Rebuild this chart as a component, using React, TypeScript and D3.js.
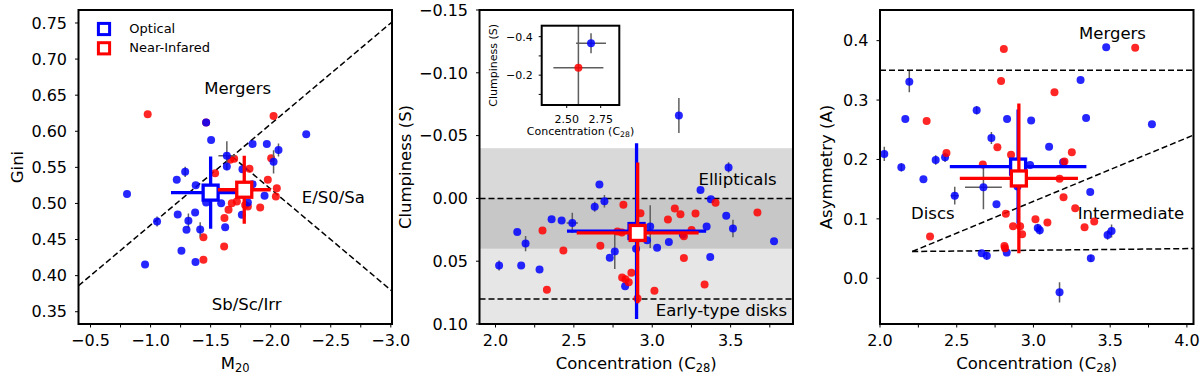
import React from "react";
import * as d3 from "d3";

const FONT = "'DejaVu Sans', Verdana, sans-serif";
const BLUE = "#0000ff";
const RED = "#ff0000";
const ERR = "#5e5e5e";

// ---------- Panel 1 : Gini vs M20   [M20, Gini, xerr, yerr]
const giniOptical: number[][] = [
  [-0.804, 0.513], [-0.954, 0.4155], [-1.054, 0.475, 0, 0.007], [-1.218, 0.533],
  [-1.226, 0.4847], [-1.288, 0.5438, 0, 0.007], [-1.257, 0.4344], [-1.299, 0.4635],
  [-1.315, 0.476, 0, 0.01], [-1.371, 0.4875], [-1.376, 0.5253], [-1.374, 0.4188],
  [-1.413, 0.464, 0, 0.01], [-1.4625, 0.612], [-1.504, 0.588], [-1.4625, 0.5013],
  [-1.5875, 0.5004], [-1.621, 0.4672], [-1.635, 0.566, 0.07, 0.02], [-1.635, 0.5512],
  [-1.765, 0.5475], [-1.76, 0.4843], [-1.81, 0.5013], [-1.849, 0.5825],
  [-1.849, 0.5267], [-1.968, 0.5825], [-1.949, 0.5106], [-2.024, 0.5576, 0, 0.016],
  [-2.065, 0.5742, 0, 0.009], [-2.296, 0.596],
];
const giniNIR: number[][] = [
  [-0.976, 0.6236], [-1.44, 0.422], [-1.44, 0.4533], [-1.5375, 0.542],
  [-1.615, 0.4797], [-1.6125, 0.4404], [-1.649, 0.4912], [-1.6625, 0.5604],
  [-1.696, 0.5618], [-1.676, 0.5004], [-1.718, 0.5027], [-1.7875, 0.498],
  [-1.8236, 0.548], [-1.81, 0.4958], [-1.9125, 0.4944], [-1.976, 0.5327],
  [-2.004, 0.5627], [-2.024, 0.6213], [-2.051, 0.5212], [-2.043, 0.5096],
  [-1.4625, 0.612],
];
const giniMeanOptical = [-1.5, 0.515, 0.33, 0.05];
const giniMeanNIR = [-1.78, 0.519, 0.22, 0.047];
const p1XTicks = [-0.5, -0.75, -1.0, -1.25, -1.5, -1.75, -2.0, -2.25, -2.5, -2.75, -3.0];
const p1XLabels = ["−0.5", "", "−1.0", "", "−1.5", "", "−2.0", "", "−2.5", "", "−3.0"];
const p1YTicks = [0.35, 0.4, 0.45, 0.5, 0.55, 0.6, 0.65, 0.7, 0.75];
const p1YLabels = ["0.35", "0.40", "0.45", "0.50", "0.55", "0.60", "0.65", "0.70", "0.75"];

// ---------- Panel 2 : Clumpiness vs Concentration   [C28, S, xerr, yerr]
const clumpOptical: number[][] = [
  [2.023, 0.0534, 0, 0.004], [2.139, 0.0267], [2.164, 0.0534], [2.192, 0.036, 0, 0.006],
  [2.281, 0.0566], [2.358, 0.0166], [2.422, 0.0176], [2.49, 0.0195, 0.036, 0.008],
  [2.633, 0.0067, 0, 0.004], [2.663, -0.0111], [2.695, 0.0022, 0, 0.005], [2.729, 0.0472],
  [2.761, 0.0422, 0, 0.014], [2.827, 0.0699], [2.897, 0.04], [2.967, 0.0334],
  [2.987, 0.0224, 0, 0.017], [3.031, 0.0392], [3.106, 0.0347], [3.17, -0.066, 0, 0.014],
  [3.195, 0.0288], [3.308, -0.0066], [3.347, 0.0224], [3.37, 0.0467],
  [3.374, 0.0006], [3.472, 0.0139], [3.487, -0.0247, 0, 0.004], [3.515, 0.024, 0, 0.007],
  [3.777, 0.0342],
];
const clumpNIR: number[][] = [
  [2.3, 0.0256], [2.328, 0.0728], [2.433, 0.0414], [2.669, 0.0376],
  [2.778, 0.0264], [2.806, 0.0272], [2.816, 0.0051], [2.808, 0.063],
  [2.829, 0.0643], [2.85, 0.0667], [2.867, 0.0592], [2.906, 0.0797],
  [2.925, 0.0118], [3.014, 0.0736], [3.1, 0.0168], [3.144, 0.008],
  [3.18, 0.0126], [3.202, 0.0302], [3.202, 0.0475], [3.251, 0.0251],
  [3.276, 0.012], [3.334, 0.0686], [3.404, 0.0035], [3.671, 0.0112],
];
const clumpMeanOptical = [2.9, 0.026, 0.444, 0.07];
const clumpMeanNIR = [2.907, 0.0275, 0.389, 0.056];
const clumpBands = [[-0.04, 0.04, 0.3], [0.0, 0.1, 0.2]];
const clumpLines = [0.0, 0.08];
const p2XTicks = [2.0, 2.25, 2.5, 2.75, 3.0, 3.25, 3.5, 3.75];
const p2XLabels = ["2.0", "", "2.5", "", "3.0", "", "3.5", ""];
const p2YTicks = [-0.15, -0.1, -0.05, 0.0, 0.05, 0.1];
const p2YLabels = ["−0.15", "−0.10", "−0.05", "0.00", "0.05", "0.10"];

// inset
const insetOptical: number[][] = [[2.679, -0.366, 0.11, 0.052]];
const insetNIR: number[][] = [[2.586, -0.238, 0.184, 0.3]];
const insetXTicks = [2.5, 2.75];
const insetXLabels = ["2.50", "2.75"];
const insetYTicks = [-0.4, -0.3, -0.2, -0.1];
const insetYLabels = ["−0.4", "", "−0.2", ""];

// ---------- Panel 3 : Asymmetry vs Concentration   [C28, A, xerr, yerr]
const asymOptical: number[][] = [
  [2.028, 0.2093, 0, 0.012], [2.139, 0.1868, 0, 0.007], [2.165, 0.2682], [2.191, 0.331, 0, 0.018],
  [2.283, 0.1666], [2.363, 0.1992, 0, 0.008], [2.424, 0.2036, 0, 0.008], [2.487, 0.1391, 0.026, 0.015],
  [2.63, 0.2828, 0, 0.007], [2.674, 0.1532, 0.12, 0.037], [2.663, 0.0421], [2.696, 0.0381, 0, 0.007],
  [2.726, 0.2362, 0, 0.01], [2.759, 0.1245], [2.826, 0.0432], [2.828, 0.2682],
  [2.896, 0.1543], [2.985, 0.2654], [2.978, 0.1907], [3.028, 0.0847, 0, 0.007],
  [3.041, 0.0808, 0, 0.007], [3.102, 0.2216], [3.193, 0.1952], [3.17, -0.0236, 0, 0.017],
  [3.307, 0.3338], [3.343, 0.2698], [3.37, 0.1453], [3.374, 0.0337, 0, 0.006],
  [3.474, 0.3888], [3.483, 0.0729, 0, 0.008], [3.509, 0.0797, 0, 0.011], [3.772, 0.2592],
];
const asymNIR: number[][] = [
  [2.807, 0.386], [2.789, 0.3321], [2.304, 0.2648], [2.433, 0.2109],
  [2.765, 0.2205], [2.854, 0.2081], [2.67, 0.1913], [2.326, 0.0701],
  [2.82, 0.1088], [2.867, 0.0875], [2.913, 0.0875], [2.926, 0.0741],
  [2.811, 0.0544], [2.815, 0.0505], [3.013, 0.0993], [3.091, 0.0937],
  [3.137, 0.313], [3.17, 0.1677], [3.196, 0.1363], [3.202, 0.1964],
  [3.25, 0.2121], [3.272, 0.1178], [3.333, 0.0858], [3.396, 0.0954],
  [3.663, 0.3882],
];
const asymMeanOptical = [2.9, 0.188, 0.445, 0.096];
const asymMeanNIR = [2.905, 0.168, 0.385, 0.126];
const asymLines = [
  [[2.0, 0.35], [4.043, 0.35]],
  [[2.21, 0.045], [4.043, 0.05]],
  [[2.21, 0.045], [4.043, 0.241]],
];
const p3XTicks = [2.0, 2.25, 2.5, 2.75, 3.0, 3.25, 3.5, 3.75, 4.0];
const p3XLabels = ["2.0", "", "2.5", "", "3.0", "", "3.5", "", "4.0"];
const p3YTicks = [0.0, 0.1, 0.2, 0.3, 0.4];
const p3YLabels = ["0.0", "0.1", "0.2", "0.3", "0.4"];

// ---------- layout
const TOP = 10;
const BOT = 324;
const PW = 313.5;
const LEFTS = [78.5, 479.5, 880];

type Scale = d3.ScaleLinear<number, number>;

function Points({ data, sx, sy, color, r = 4 }: { data: number[][]; sx: Scale; sy: Scale; color: string; r?: number }) {
  return (
    <g>
      {data.map((d, i) => {
        const [xv, yv, xe = 0, ye = 0] = d;
        return (
          <g key={i}>
            {xe > 0 && <line x1={sx(xv - xe)} x2={sx(xv + xe)} y1={sy(yv)} y2={sy(yv)} stroke={ERR} strokeWidth={1.5} />}
            {ye > 0 && <line x1={sx(xv)} x2={sx(xv)} y1={sy(yv - ye)} y2={sy(yv + ye)} stroke={ERR} strokeWidth={1.5} />}
          </g>
        );
      })}
      {data.map((d, i) => (
        <circle key={"c" + i} cx={sx(d[0])} cy={sy(d[1])} r={r} fill={color} fillOpacity={0.85} />
      ))}
    </g>
  );
}

function Mean({ m, sx, sy, color }: { m: number[]; sx: Scale; sy: Scale; color: string }) {
  const [xv, yv, xe, ye] = m;
  const cx = sx(xv);
  const cy = sy(yv);
  return (
    <g>
      <line x1={sx(xv - xe)} x2={sx(xv + xe)} y1={cy} y2={cy} stroke={color} strokeWidth={3.3} />
      <line x1={cx} x2={cx} y1={sy(yv - ye)} y2={sy(yv + ye)} stroke={color} strokeWidth={3.3} />
      <rect x={cx - 7.5} y={cy - 7.5} width={15} height={15} fill="white" stroke={color} strokeWidth={3.3} />
    </g>
  );
}

function Axes({ sx, sy, xt, xl, yt, yl, fs = 16, tick = 3.5, xGap = 22, yGap = 11.5 }: {
  sx: Scale; sy: Scale; xt: number[]; xl: string[]; yt: number[]; yl: string[]; fs?: number; tick?: number; xGap?: number; yGap?: number;
}) {
  const [x0, x1] = sx.range();
  const ys = sy.range();
  const y0 = Math.min(ys[0], ys[1]);
  const y1 = Math.max(ys[0], ys[1]);
  return (
    <g fontFamily={FONT} fontSize={fs} fill="#000">
      {xt.map((v, i) => (
        <g key={"x" + i}>
          <line x1={sx(v)} x2={sx(v)} y1={y1} y2={y1 + tick} stroke="#000" strokeWidth={1} />
          {xl[i] && <text x={sx(v)} y={y1 + xGap} textAnchor="middle">{xl[i]}</text>}
        </g>
      ))}
      {yt.map((v, i) => (
        <g key={"y" + i}>
          <line x1={x0 - tick} x2={x0} y1={sy(v)} y2={sy(v)} stroke="#000" strokeWidth={1} />
          {yl[i] && <text x={x0 - yGap} y={sy(v)} dy="0.36em" textAnchor="end">{yl[i]}</text>}
        </g>
      ))}
      <rect x={x0} y={y0} width={x1 - x0} height={y1 - y0} fill="none" stroke="#000" strokeWidth={2} />
    </g>
  );
}

export default function App() {
  // scales
  const s1x = d3.scaleLinear().domain([-0.4, -3.01]).range([LEFTS[0], LEFTS[0] + PW]);
  const s1y = d3.scaleLinear().domain([0.333, 0.768]).range([BOT, TOP]);
  const s2x = d3.scaleLinear().domain([1.898, 3.898]).range([LEFTS[1], LEFTS[1] + PW]);
  const s2y = d3.scaleLinear().domain([-0.15, 0.1]).range([TOP, BOT]);
  const s3x = d3.scaleLinear().domain([2.0, 4.043]).range([LEFTS[2], LEFTS[2] + PW]);
  const s3y = d3.scaleLinear().domain([-0.077, 0.4516]).range([BOT, TOP]);
  const six = d3.scaleLinear().domain([2.316, 2.887]).range([541.7, 619.3]);
  const siy = d3.scaleLinear().domain([-0.457, -0.045]).range([25.7, 105]);

  const line = d3.line<number[]>();

  // Lotz et al. lines
  const mergerLine = (m: number) => -0.14 * m + 0.33;
  const hubbleLine = (m: number) => 0.14 * m + 0.8;
  const mX = (0.8 - 0.33) / -0.28;
  const d1 = [[-0.4, mergerLine(-0.4)], [-3.01, mergerLine(-3.01)]];
  const d2 = [[mX, hubbleLine(mX)], [-3.01, hubbleLine(-3.01)]];

  const ann = { fontFamily: FONT, fontSize: 16.5, fill: "#000" } as const;

  return (
    <svg width={1200} height={375} style={{ position: "absolute", left: 0, top: 0, background: "#fff" }}>
      <defs>
        <clipPath id="c1"><rect x={LEFTS[0]} y={TOP} width={PW} height={BOT - TOP} /></clipPath>
        <clipPath id="c2"><rect x={LEFTS[1]} y={TOP} width={PW} height={BOT - TOP} /></clipPath>
        <clipPath id="c3"><rect x={LEFTS[2]} y={TOP} width={PW} height={BOT - TOP} /></clipPath>
        <clipPath id="ci"><rect x={541.7} y={25.7} width={77.6} height={79.3} /></clipPath>
      </defs>
      <rect x={0} y={0} width={1200} height={375} fill="#fff" />

      {/* ---------------- Panel 1 ---------------- */}
      <g clipPath="url(#c1)">
        {[d1, d2].map((d, i) => (
          <path key={i} d={line(d.map((p) => [s1x(p[0]), s1y(p[1])]) as [number, number][]) || ""} fill="none" stroke="#000" strokeWidth={1.5} strokeDasharray="6,3" />
        ))}
        <text {...ann} x={s1x(-1.725)} y={93.5} textAnchor="middle">Mergers</text>
        <text {...ann} x={333.3} y={202.5} textAnchor="middle">E/S0/Sa</text>
        <text {...ann} x={246.7} y={310} textAnchor="middle">Sb/Sc/Irr</text>
        <Points data={giniNIR} sx={s1x} sy={s1y} color={RED} />
        <Points data={giniOptical} sx={s1x} sy={s1y} color={BLUE} />
        <Mean m={giniMeanOptical} sx={s1x} sy={s1y} color={BLUE} />
        <Mean m={giniMeanNIR} sx={s1x} sy={s1y} color={RED} />
        {/* legend */}
        <rect x={104 - 5.6} y={29 - 5.6} width={11.2} height={11.2} fill="white" stroke={BLUE} strokeWidth={3} />
        <rect x={104 - 5.6} y={48.3 - 5.6} width={11.2} height={11.2} fill="white" stroke={RED} strokeWidth={3} />
        <text fontFamily={FONT} fontSize={13} x={129.3} y={32.5}>Optical</text>
        <text fontFamily={FONT} fontSize={13} x={129.3} y={52}>Near-Infared</text>
      </g>
      <Axes sx={s1x} sy={s1y} xt={p1XTicks} xl={p1XLabels} yt={p1YTicks} yl={p1YLabels} />
      <text fontFamily={FONT} fontSize={16.5} x={(LEFTS[0] * 2 + PW) / 2} y={368.5} textAnchor="middle">
        M<tspan fontSize={11.5} dy={3.5}>20</tspan>
      </text>
      <text fontFamily={FONT} fontSize={16.5} transform={`translate(22.5,167) rotate(-90)`} textAnchor="middle">Gini</text>

      {/* ---------------- Panel 2 ---------------- */}
      <g clipPath="url(#c2)">
        {clumpBands.map((b, i) => (
          <rect key={i} x={LEFTS[1]} width={PW} y={s2y(b[0])} height={s2y(b[1]) - s2y(b[0])} fill="#808080" fillOpacity={b[2]} />
        ))}
        {clumpLines.map((v, i) => (
          <line key={i} x1={LEFTS[1]} x2={LEFTS[1] + PW} y1={s2y(v)} y2={s2y(v)} stroke="#000" strokeWidth={1.5} strokeDasharray="6,3" />
        ))}
        <text {...ann} x={698.5} y={184.5}>Ellipticals</text>
        <text {...ann} x={787} y={316} textAnchor="end">Early-type disks</text>
        <Points data={clumpOptical} sx={s2x} sy={s2y} color={BLUE} />
        <Points data={clumpNIR} sx={s2x} sy={s2y} color={RED} />
        <Mean m={clumpMeanOptical} sx={s2x} sy={s2y} color={BLUE} />
        <Mean m={clumpMeanNIR} sx={s2x} sy={s2y} color={RED} />
      </g>
      <Axes sx={s2x} sy={s2y} xt={p2XTicks} xl={p2XLabels} yt={p2YTicks} yl={p2YLabels} />
      <text fontFamily={FONT} fontSize={16.5} x={(LEFTS[1] * 2 + PW) / 2} y={368.5} textAnchor="middle">
        Concentration (C<tspan fontSize={11.5} dy={3.5}>28</tspan><tspan dy={-3.5}>)</tspan>
      </text>
      <text fontFamily={FONT} fontSize={16.5} transform={`translate(410.5,167) rotate(-90)`} textAnchor="middle">Clumpiness (S)</text>

      {/* inset */}
      <rect x={541.7} y={25.7} width={77.6} height={79.3} fill="#fff" />
      <g clipPath="url(#ci)">
        <Points data={insetOptical} sx={six} sy={siy} color={BLUE} />
        <Points data={insetNIR} sx={six} sy={siy} color={RED} />
      </g>
      <Axes sx={six} sy={siy} xt={insetXTicks} xl={insetXLabels} yt={insetYTicks} yl={insetYLabels} fs={11} tick={3} xGap={18} yGap={9} />
      <text fontFamily={FONT} fontSize={11} x={580.5} y={134.5} textAnchor="middle">
        Concentration (C<tspan fontSize={7.7} dy={2.4}>28</tspan><tspan dy={-2.4}>)</tspan>
      </text>
      <text fontFamily={FONT} fontSize={11} transform={`translate(496.7,65.3) rotate(-90)`} textAnchor="middle">Clumpiness (S)</text>

      {/* ---------------- Panel 3 ---------------- */}
      <g clipPath="url(#c3)">
        {asymLines.map((d, i) => (
          <path key={i} d={line(d.map((p) => [s3x(p[0]), s3y(p[1])]) as [number, number][]) || ""} fill="none" stroke="#000" strokeWidth={1.5} strokeDasharray="6,3" />
        ))}
        <text {...ann} x={1112.5} y={38.5} textAnchor="middle">Mergers</text>
        <text {...ann} x={911} y={218.5}>Discs</text>
        <text {...ann} x={1077.7} y={218.5}>Intermediate</text>
        <Points data={asymOptical} sx={s3x} sy={s3y} color={BLUE} />
        <Points data={asymNIR} sx={s3x} sy={s3y} color={RED} />
        <Mean m={asymMeanOptical} sx={s3x} sy={s3y} color={BLUE} />
        <Mean m={asymMeanNIR} sx={s3x} sy={s3y} color={RED} />
      </g>
      <Axes sx={s3x} sy={s3y} xt={p3XTicks} xl={p3XLabels} yt={p3YTicks} yl={p3YLabels} />
      <text fontFamily={FONT} fontSize={16.5} x={(LEFTS[2] * 2 + PW) / 2} y={368.5} textAnchor="middle">
        Concentration (C<tspan fontSize={11.5} dy={3.5}>28</tspan><tspan dy={-3.5}>)</tspan>
      </text>
      <text fontFamily={FONT} fontSize={16.5} transform={`translate(832,167) rotate(-90)`} textAnchor="middle">Asymmetry (A)</text>
    </svg>
  );
}
